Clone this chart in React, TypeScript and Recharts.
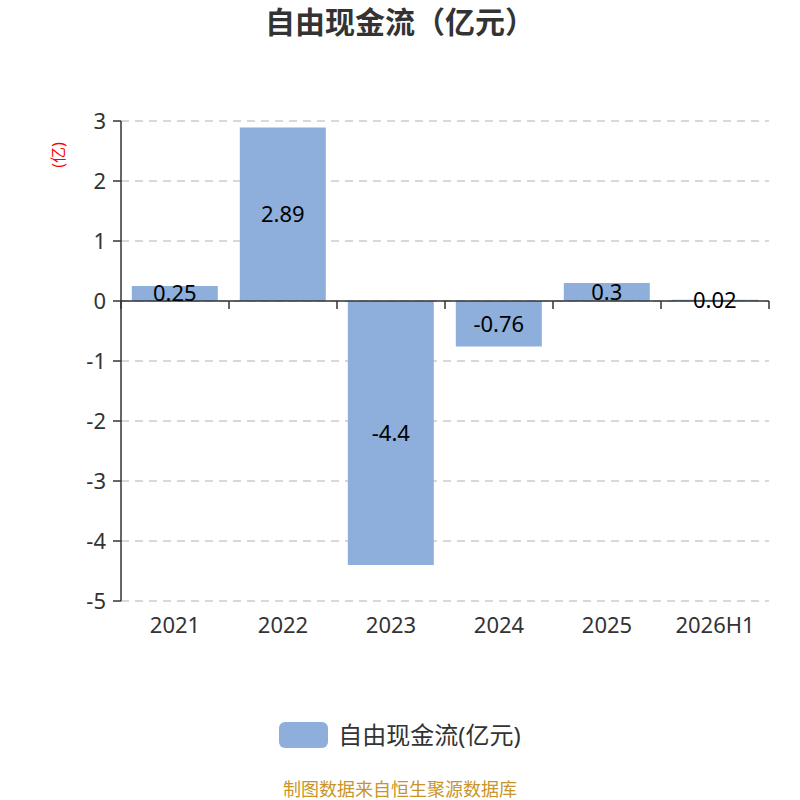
import React from "react";
import {
  Bar,
  BarChart,
  CartesianGrid,
  LabelList,
  ReferenceLine,
  XAxis,
  YAxis,
} from "recharts";

const years = ["2021", "2022", "2023", "2024", "2025", "2026H1"];
const freeCashFlow = [0.25, 2.89, -4.4, -0.76, 0.3, 0.02];
const yTicks = [3, 2, 1, 0, -1, -2, -3, -4, -5];

const data = years.map((year, i) => ({ year, value: freeCashFlow[i] }));

const FONT = "'Noto Sans', 'Noto Sans CJK SC', sans-serif";
const BAR = "#8eaedb";
const INK = "#333333";

// zero line with tick marks at the category boundaries
function ZeroAxis(props: any) {
  const { x1, y1, x2 } = props;
  const step = (x2 - x1) / years.length;
  const marks = [];
  for (let i = 0; i <= years.length; i++) {
    const x = x1 + step * i;
    marks.push(<line key={i} x1={x} y1={y1} x2={x} y2={y1 + 8} stroke={INK} strokeWidth={1.5} />);
  }
  return (
    <g>
      <line x1={x1} y1={y1} x2={x2} y2={y1} stroke={INK} strokeWidth={1.5} />
      {marks}
    </g>
  );
}

export default function App() {
  return (
    <div style={{ position: "absolute", left: 0, top: 0, width: 800, height: 800, background: "#fff", fontFamily: FONT, overflow: "hidden" }}>
      <div style={{ position: "absolute", top: 5, width: 800, textAlign: "center", fontSize: 30, lineHeight: "34px", fontWeight: "bold", color: INK }}>
        自由现金流（亿元）
      </div>
      <div
        style={{
          position: "absolute",
          left: 58,
          top: 155,
          transform: "translate(-50%, -50%) rotate(-90deg)",
          fontSize: 16,
          lineHeight: "16px",
          color: "#ff0000",
          whiteSpace: "nowrap",
        }}
      >
        (亿)
      </div>
      <BarChart
        width={800}
        height={800}
        data={data}
        margin={{ top: 121, right: 31, left: 0, bottom: 159 }}
        barCategoryGap="10%"
      >
        <CartesianGrid vertical={false} stroke="#cccccc" strokeDasharray="8 6" strokeWidth={1.5} />
        <XAxis
          dataKey="year"
          axisLine={false}
          tickLine={false}
          tickMargin={10}
          height={40}
          tick={{ fontSize: 22, fill: INK }}
        />
        <YAxis
          width={121}
          domain={[-5, 3]}
          ticks={yTicks}
          interval={0}
          tickSize={8}
          tickMargin={7}
          axisLine={{ stroke: INK, strokeWidth: 1.5 }}
          tickLine={{ stroke: INK, strokeWidth: 1.5 }}
          tick={{ fontSize: 22, fill: INK }}
        />
        <Bar dataKey="value" fill={BAR} isAnimationActive={false}>
          <LabelList dataKey="value" position="center" style={{ fontSize: 22, fill: "#000" }} />
        </Bar>
        <ReferenceLine y={0} shape={ZeroAxis} />
      </BarChart>
      <div style={{ position: "absolute", top: 722, left: 0, width: 800, display: "flex", justifyContent: "center", alignItems: "center" }}>
        <div style={{ width: 49, height: 26, borderRadius: 6, background: BAR, marginRight: 10 }} />
        <span style={{ fontSize: 24, lineHeight: "26px", color: INK }}>自由现金流(亿元)</span>
      </div>
      <div style={{ position: "absolute", top: 780, width: 800, textAlign: "center", fontSize: 18, lineHeight: "18px", color: "#c8952a" }}>
        制图数据来自恒生聚源数据库
      </div>
    </div>
  );
}
